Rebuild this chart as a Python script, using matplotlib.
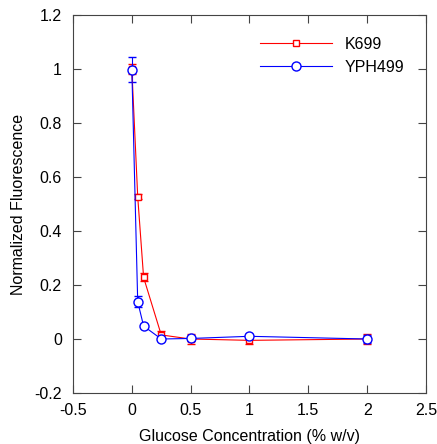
import matplotlib
matplotlib.use("Agg")
import matplotlib.pyplot as plt
from matplotlib.lines import Line2D

plt.rcParams['font.family'] = ['Liberation Sans', 'DejaVu Sans']

glucose = [0, 0.05, 0.1, 0.25, 0.5, 1, 2]
k699 = [1.0, 0.527, 0.228, 0.015, 0.0, -0.005, 0.0]
k699_err = [0.02, 0.01, 0.015, 0.015, 0.02, 0.015, 0.02]
yph499 = [0.998, 0.138, 0.048, 0.0, 0.002, 0.01, 0.0]
yph499_err = [0.045, 0.02, 0.005, 0.005, 0.01, 0.01, 0.015]

fig = plt.figure(figsize=(4.37, 4.44), dpi=100)
ax = fig.add_axes([73/437, 1 - 393/444, 353/437, 378/444])

ax.errorbar(glucose, k699, yerr=k699_err, color='red', lw=0.8, marker='s',
            ms=5, mfc='white', mec='red', mew=1, capsize=3, elinewidth=0.8)
ax.errorbar(glucose, yph499, yerr=yph499_err, color='blue', lw=0.8, marker='o',
            ms=6.5, mfc='white', mec='blue', mew=1, capsize=3, elinewidth=0.8)

ax.set_xlim(-0.5, 2.5)
ax.set_ylim(-0.2, 1.2)
ax.set_xticks([-0.5, 0, 0.5, 1, 1.5, 2, 2.5])
ax.set_xticklabels(['-0.5', '0', '0.5', '1', '1.5', '2', '2.5'])
ax.set_yticks([-0.2, 0, 0.2, 0.4, 0.6, 0.8, 1, 1.2])
ax.set_yticklabels(['-0.2', '0', '0.2', '0.4', '0.6', '0.8', '1', '1.2'])
ax.tick_params(direction='in', top=True, right=True, length=6, width=0.8,
               labelsize=11.5, color='#444444')
ax.tick_params(axis='x', pad=7)
ax.tick_params(axis='y', pad=8)
for s in ax.spines.values():
    s.set_linewidth(0.8)
    s.set_color('#444444')

ax.set_xlabel('Glucose Concentration (% w/v)', fontsize=11.5, labelpad=8)
ax.set_ylabel('Normalized Fluorescence', fontsize=11.5, labelpad=6)

handles = [
    Line2D([], [], color='red', lw=0.8, marker='s', ms=5, mfc='white', mec='red'),
    Line2D([], [], color='blue', lw=0.8, marker='o', ms=6.5, mfc='white', mec='blue'),
]
ax.legend(handles, ['K699', 'YPH499'], loc='upper right',
          bbox_to_anchor=(0.98, 0.98), frameon=False, fontsize=11.5,
          handlelength=4.5, numpoints=1)

fig.savefig('out.png', dpi=100)
